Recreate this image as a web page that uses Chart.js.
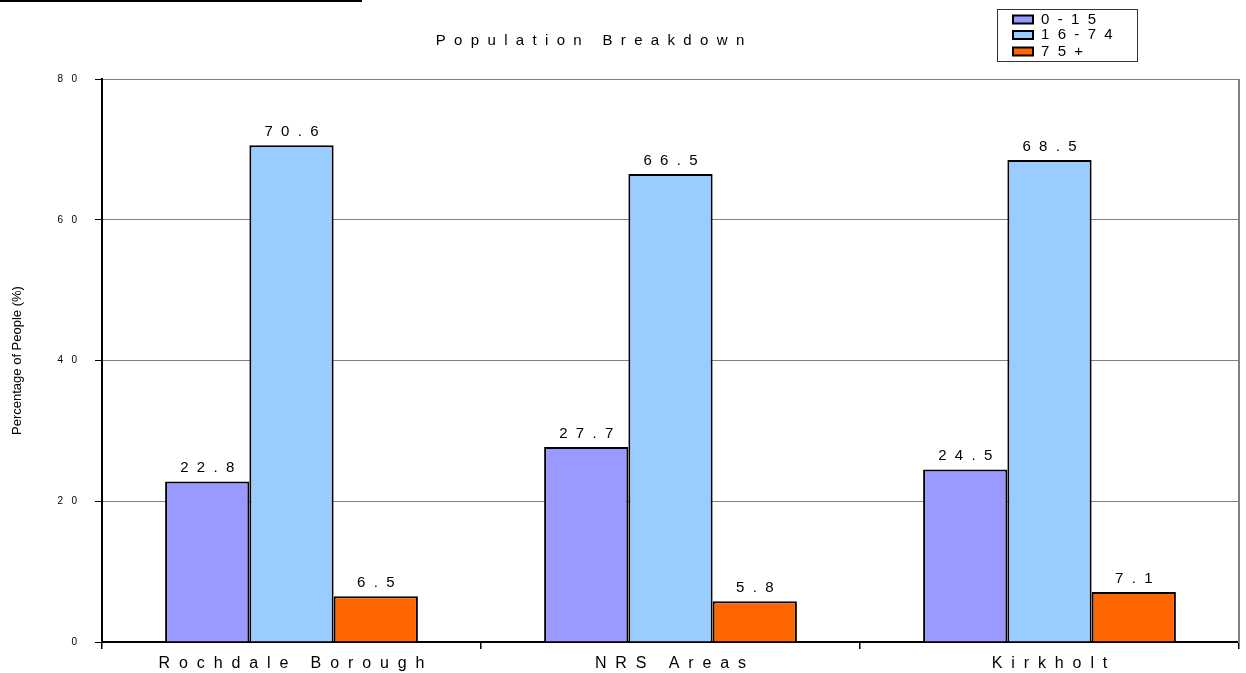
<!DOCTYPE html>
<html>
<head>
<meta charset="utf-8">
<script src="https://cdn.jsdelivr.net/npm/chart.js@4.4.0/dist/chart.umd.min.js"></script>
<style>
  html, body { margin: 0; padding: 0; background: #fff; }
  #wrap { position: relative; width: 1246px; height: 673px; }
  #topline { position: absolute; left: 0; top: 0; width: 362px; height: 2px; background: #000; }
</style>
</head>
<body>
<div id="wrap">
  <canvas id="popChart" width="1246" height="673"></canvas>
  <div id="topline"></div>
</div>
<script>
// ===== DATA =====
const categories = ['Rochdale Borough', 'NRS Areas', 'Kirkholt'];
const seriesNames = ['0-15', '16-74', '75+'];
const age0to15 = [22.8, 27.7, 24.5];
const age16to74 = [70.6, 66.5, 68.5];
const age75plus = [6.5, 5.8, 7.1];
const yTicks = [0, 20, 40, 60, 80];
const chartTitle = 'Population Breakdown';
const yTitle = 'Percentage of People (%)';

const colors = ['#9999FF', '#99CCFF', '#FF6600'];
const FONT = "'Liberation Sans', Arial, sans-serif";

// old Excel style letter spacing
function spaced(s, n = 2) {
  return s.split('').join(' '.repeat(n));
}

// ===== PLUGINS =====
const extrasPlugin = {
  id: 'extras',
  afterDatasetsDraw(chart) {
    const ctx = chart.ctx;
    ctx.save();
    ctx.font = '15px ' + FONT;
    ctx.fillStyle = '#000';
    ctx.textAlign = 'center';
    ctx.textBaseline = 'bottom';
    chart.data.datasets.forEach((ds, i) => {
      chart.getDatasetMeta(i).data.forEach((bar, j) => {
        ctx.fillText(spaced(ds.data[j].toFixed(1)), bar.x, bar.y - 6);
      });
    });
    ctx.restore();
  },
  afterDraw(chart) {
    const ctx = chart.ctx;
    const area = chart.chartArea;
    ctx.save();
    // right border of plot
    ctx.strokeStyle = '#808080';
    ctx.lineWidth = 2;
    ctx.beginPath();
    ctx.moveTo(area.right, area.top);
    ctx.lineTo(area.right, area.bottom + 1);
    ctx.stroke();

    // title
    ctx.fillStyle = '#000';
    ctx.font = '15px ' + FONT;
    ctx.textAlign = 'center';
    ctx.textBaseline = 'middle';
    ctx.fillText(spaced(chartTitle), 590, 41);

    // legend box
    ctx.strokeStyle = '#333';
    ctx.lineWidth = 1;
    ctx.strokeRect(997.5, 9.5, 140, 52);
    ctx.textAlign = 'left';
    const rowY = [19.5, 35, 51.5];
    chart.data.datasets.forEach((ds, i) => {
      ctx.fillStyle = ds.backgroundColor;
      ctx.fillRect(1013, rowY[i] - 4, 20, 8);
      ctx.strokeStyle = '#000';
      ctx.lineWidth = 2;
      ctx.strokeRect(1013, rowY[i] - 4, 20, 8);
      ctx.fillStyle = '#000';
      ctx.fillText(spaced(ds.label), 1041, rowY[i]);
    });
    ctx.restore();
  }
};

// ===== CHART =====
const ctx = document.getElementById('popChart');
new Chart(ctx, {
  type: 'bar',
  data: {
    labels: categories,
    datasets: [
      { label: seriesNames[0], data: age0to15, backgroundColor: colors[0] },
      { label: seriesNames[1], data: age16to74, backgroundColor: colors[1] },
      { label: seriesNames[2], data: age75plus, backgroundColor: colors[2] }
    ].map(d => ({
      ...d,
      borderColor: '#000',
      borderWidth: 2,
      categoryPercentage: 0.667,
      barPercentage: 1
    }))
  },
  options: {
    responsive: false,
    animation: false,
    layout: { padding: { top: 79, right: 7, left: 0, bottom: 0 } },
    plugins: {
      legend: { display: false },
      title: { display: false },
      tooltip: { enabled: false }
    },
    scales: {
      x: {
        grid: {
          offset: true,
          drawOnChartArea: false,
          tickLength: 7,
          tickColor: '#000',
          lineWidth: 1.5
        },
        border: { color: '#000', width: 2 },
        ticks: {
          font: { family: FONT, size: 16 },
          color: '#000',
          padding: 5,
          callback: function (v, i) { return spaced(categories[i]); }
        },
        afterFit: scale => { scale.height = 31; }
      },
      y: {
        min: 0,
        max: 80,
        afterBuildTicks: scale => { scale.ticks = yTicks.map(v => ({ value: v })); },
        grid: {
          color: '#808080',
          lineWidth: 1,
          tickLength: 7,
          tickColor: '#000'
        },
        border: { color: '#000', width: 2 },
        ticks: {
          font: { family: FONT, size: 10 },
          color: '#000',
          padding: 18,
          callback: v => spaced(String(v), 3)
        },
        title: {
          display: true,
          text: yTitle,
          font: { family: FONT, size: 13 },
          color: '#000',
          padding: { top: 10, bottom: 0 }
        },
        afterFit: scale => { scale.width = 102; }
      }
    }
  },
  plugins: [extrasPlugin]
});
</script>
</body>
</html>
